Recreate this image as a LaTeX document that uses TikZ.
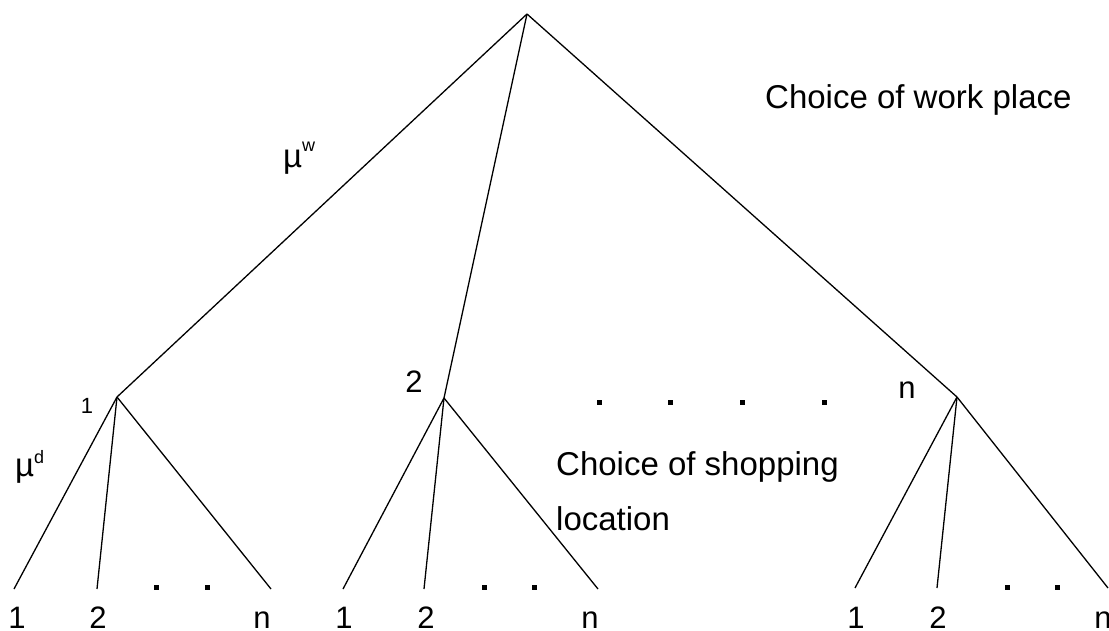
\documentclass[tikz,border=0pt]{standalone}
\usepackage{fontspec}
\setmainfont{Liberation Sans}
\begin{document}
\begin{tikzpicture}[x=1pt,y=-1pt,
  edge/.style={line width=1.3pt,black},
  lbl/.style={inner sep=0pt,anchor=base,text depth=0pt,font=\fontsize{31}{36}\selectfont},
  lblw/.style={inner sep=0pt,anchor=base west,font=\fontsize{33}{38}\selectfont},
  sup/.style={inner sep=0pt,anchor=base west,font=\fontsize{18}{21}\selectfont},
  small/.style={inner sep=0pt,anchor=base,font=\fontsize{22}{26}\selectfont},
  dotsq/.style={fill=black,draw=none,minimum size=5pt,inner sep=0pt,rectangle}]
\useasboundingbox[fill=white] (0,0) rectangle (1109,631);
% tree points
\coordinate (root) at (527,14);
\coordinate (a) at (117,397);
\coordinate (b) at (444,398);
\coordinate (c) at (957,397);
\coordinate (a1) at (14,589);
\coordinate (a2) at (97,589);
\coordinate (a3) at (271,589);
\coordinate (b1) at (343,589);
\coordinate (b2) at (424,589);
\coordinate (b3) at (598,589);
\coordinate (c1) at (855,588);
\coordinate (c2) at (937,588);
\coordinate (c3) at (1108,588);
% edges
\draw[edge] (root) -- (a);
\draw[edge] (root) -- (b);
\draw[edge] (root) -- (c);
\foreach \p in {a,b,c}{
  \draw[edge] (\p) -- (\p1);
  \draw[edge] (\p) -- (\p2);
  \draw[edge] (\p) -- (\p3);
}
% node labels
\node[small] (la) at (87,413) {1};
\node[lbl] (lb) at (414,392) {2};
\node[lbl] (lc) at (907,398) {n};
% leaf labels
\node[lbl] (ta1) at (17,628) {1};
\node[lbl] (ta2) at (98,628) {2};
\node[lbl] (ta3) at (262,628) {n};
\node[lbl] (tb1) at (344,628) {1};
\node[lbl] (tb2) at (426,628) {2};
\node[lbl] (tb3) at (590,628) {n};
\node[lbl] (tc1) at (856,628) {1};
\node[lbl] (tc2) at (938,628) {2};
\node[lbl] (tc3) at (1103,628) {n};
% mu labels
\node[lblw] (muw) at (283,168) {µ};
\node[sup] (muws) at (302,152) {w};
\node[lblw] (mud) at (15,476) {µ};
\node[sup] (muds) at (34,463) {d};
% descriptions
\node[lblw] (work) at (765,109) {Choice of work place};
\node[lblw] (shop1) at (556,475) {Choice of shopping};
\node[lblw] (shop2) at (556,530) {location};
% dots
\foreach \x/\n in {156/d1,207/d2,484/d3,534/d4,1007/d5,1057/d6}
  \node[dotsq] (\n) at (\x,587) {};
\foreach \x/\n in {599/m1,670/m2,742/m3,824/m4}
  \node[dotsq] (\n) at (\x,402) {};
\end{tikzpicture}
\end{document}
